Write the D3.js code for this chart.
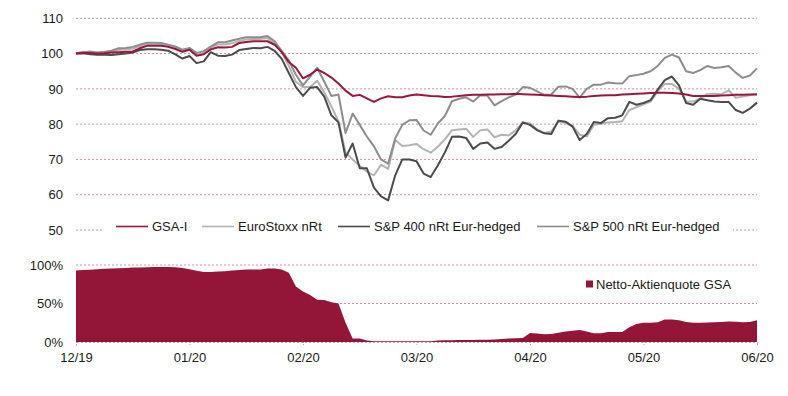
<!DOCTYPE html>
<html><head><meta charset="utf-8">
<script src="https://cdn.jsdelivr.net/npm/d3@7/dist/d3.min.js"></script>
<style>body{margin:0;background:#fff;} text{font-family:"Liberation Sans",Arial,Helvetica,sans-serif;fill:#1a1a1a;}</style>
</head><body><svg id="c" width="788" height="396"></svg>
<script>
// ---------- data ----------
const monthLabels = ["12/19","01/20","02/20","03/20","04/20","05/20","06/20"];
const samplesPerMonth = 16;
const indexTicks = [50,60,70,80,90,100,110];
const quotaTicks = [0,50,100];
const seriesNames = ["GSA-I","EuroStoxx nRt","S&P 400 nRt Eur-hedged","S&P 500 nRt Eur-hedged"];
const quotaName = "Netto-Aktienquote GSA";

const gsaValues = [100,100.2,100.2,100,100.1,100.3,100.4,100.5,100.6,101.5,102.2,102.2,102.2,101.9,101.3,100.5,
101.1,99.4,99.8,101.2,101.8,101.7,101.9,103,103.3,103.5,103.5,103.5,102.5,100.4,97.6,96,
93,94,95.5,94.5,93.2,91.5,89.5,88,88.3,87.3,86.3,87.3,87.9,87.6,87.6,88.1,
88.4,88.2,88,87.9,87.7,87.8,88,88.2,88.3,88.3,88.4,88.4,88.5,88.5,88.6,88.5,
88.4,88.3,88.2,88.1,88,87.9,87.8,87.7,87.8,88,88.1,88.2,88.2,88.4,88.5,88.6,
88.7,88.8,88.9,88.9,88.8,88.7,88.4,88,88,88,88,88.1,88.2,88.3,88.3,88.4,88.4];

const euroStoxxValues = [100,100.5,100.3,100.1,100.2,100.6,101,101.2,101.4,102,102.6,102.6,102.5,102.2,101.6,100.8,
101.4,99.6,100.2,101.7,102.6,102.6,102.9,103.6,104,104.1,104.1,104.4,103,100.5,96.5,92,
90.5,90.5,92.3,89,85,80.8,72,70,68.2,66.5,65.5,68.5,67.3,75.5,73.8,74,
74.4,72.9,71.9,73.6,75.7,78.3,78.5,78.7,76.4,78.3,78.5,76.3,77,76.8,78.3,80.5,
80.2,78.5,77.5,77.9,80.7,80.4,79.5,77,76.5,79.8,80.1,80.5,80.6,80.8,84,84.8,
85.6,86.4,89.3,91.4,91.4,90,86.5,86.4,87.3,88.5,88.6,88.5,89.6,87.5,87.8,88.2,88.7];

const sp400Values = [100,100.1,99.8,99.7,99.7,99.6,99.8,100,100.3,101,101.2,101.2,101.1,100.8,99.8,98.6,
99.3,97.3,97.8,100.4,99.4,99.3,99.7,101,101.3,101.6,101.5,101.9,100.8,98.5,94.5,90.5,
88,90.3,90.5,87.8,82.5,80.5,70.5,74.5,67.5,67.5,62,59.5,58.4,65.5,70,70,
69.5,66,65,68.3,72,76.4,76.5,76.1,73,74.5,74.8,73,73.5,75.3,77.3,80.5,
79.8,78.3,77.4,77.2,81,80.7,79.3,75.5,77.2,80.6,80.3,81.7,81.8,82.5,86.3,85.5,
86,86.8,89.8,92.5,93.5,91,86,85.5,87.2,86.8,86.4,86.3,86.3,84,83.2,84.4,86.1];

const sp500Values = [100,100.4,100.6,100.3,100.5,100.8,101.5,101.6,101.9,102.5,103.1,103.1,103,102.5,102,101.1,
101.6,100.2,100.7,102,103.2,103.2,103.7,104.2,104.6,104.6,104.6,105,103.5,100.8,98,94,
91,93.5,96,92,88,88.4,77.5,83,79.8,76.5,73.7,70,68.8,76,79.8,81.1,
81.2,78.2,77,80.2,82.3,86.5,87.2,87.6,86.4,88.2,88.1,85.3,86.5,87.6,88.4,90.5,
90.3,89.3,88.3,88.4,90.6,90.7,90,87.5,90,91.2,91.2,91.8,91.6,91.5,93.6,93.9,
94.3,95,96.5,98.8,99.7,98.9,95,94.5,95.3,96.5,95.9,96.1,96.5,94.6,93.1,93.8,95.8];

const equityQuotaValues = [93,93.5,93.9,94.5,95.2,95.5,95.8,96.2,96.7,96.9,97.1,97.3,97.4,97.4,97,96.2,
94.5,92.5,90.8,91,91.5,92,92.8,93.5,94,94.1,94.3,95.5,95.5,94.2,90,72,
65.5,61.1,55,54.6,51.5,50,25,4.4,4.4,2,0.9,0.9,0.9,0.9,0.9,0.9,
0.9,0.9,1,1.8,2.2,2.4,2.5,2.5,2.6,2.8,3,3.4,4,4.5,5,5.2,
11.8,11.2,10,10.3,12,13.6,14.7,15.5,13.5,11.5,11.3,13.1,13.1,13.1,19,23.5,
25,25,25.5,29.3,29.3,28.4,26,25,25,25.2,25.5,26,26.6,26.2,25.8,26,28.4];

// ---------- drawing ----------
const svg = d3.select("#c");
const left = 76, right = 757;
const x = d3.scaleLinear().domain([0, monthLabels.length - 1]).range([left, right]);
const yTop = d3.scaleLinear().domain([50, 110]).range([230, 18.3]);
const yBot = d3.scaleLinear().domain([0, 100]).range([342, 265]);
const t = i => i / samplesPerMonth;

const gridColor = "#d28fa3";
const crimson = "#99173f";
const areaColor = "#931638";
const colors = [crimson, "#b3b3b3", "#4b4b4b", "#8d8d8d"];

// top gridlines
svg.append("g").selectAll("line").data(indexTicks).join("line")
  .attr("x1", left).attr("x2", right)
  .attr("y1", d => yTop(d)).attr("y2", d => yTop(d))
  .attr("stroke", gridColor).attr("stroke-width", 1).attr("stroke-dasharray", "2,2");
svg.append("g").selectAll("text").data(indexTicks).join("text")
  .attr("x", 63).attr("y", d => yTop(d)).attr("dy", "0.36em")
  .attr("text-anchor", "end").attr("font-size", 13).text(d => d);

// bottom gridlines (50, 100)
svg.append("g").selectAll("line").data(quotaTicks.filter(d => d > 0)).join("line")
  .attr("x1", left).attr("x2", right)
  .attr("y1", d => yBot(d)).attr("y2", d => yBot(d))
  .attr("stroke", gridColor).attr("stroke-width", 1).attr("stroke-dasharray", "2,2");
svg.append("g").selectAll("text").data(quotaTicks).join("text")
  .attr("x", 63).attr("y", d => yBot(d)).attr("dy", "0.36em")
  .attr("text-anchor", "end").attr("font-size", 13).text(d => d + "%");

// area
const area = d3.area().x((d, i) => x(t(i))).y0(yBot(0)).y1(d => yBot(d));
svg.append("path").datum(equityQuotaValues).attr("d", area).attr("fill", areaColor);

// x axis
const xAxis = d3.axisBottom(x).tickValues(d3.range(monthLabels.length))
  .tickFormat(i => monthLabels[i]).tickSize(4).tickPadding(7);
const gx = svg.append("g").attr("transform", `translate(0,${yBot(0)})`).call(xAxis);
gx.select(".domain").attr("stroke", "#c9a0ad").attr("stroke-dasharray", "2,2");
gx.selectAll(".tick line").attr("stroke", "#c9a0ad").attr("stroke-dasharray", "1,1");
gx.selectAll(".tick text").attr("font-size", 13).attr("fill", "#1a1a1a")
  .attr("font-family", '"Liberation Sans",Arial,sans-serif');

// legend 1 (over the 50 gridline)
svg.append("rect").attr("x", 103).attr("y", 219).attr("width", 630).attr("height", 17).attr("fill", "#fff");
const legendX = [116, 202, 338, 537];
const lg = svg.append("g").selectAll("g").data(seriesNames).join("g")
  .attr("transform", (d, i) => `translate(${legendX[i]},226.5)`);
lg.append("line").attr("x1", 0).attr("x2", 32).attr("y1", 0).attr("y2", 0)
  .attr("stroke", (d, i) => colors[i]).attr("stroke-width", 1.6);
lg.append("text").attr("x", 36).attr("dy", "0.36em").attr("font-size", 13).text(d => d);

// legend 2
svg.append("rect").attr("x", 586).attr("y", 280.5).attr("width", 7).attr("height", 7).attr("fill", areaColor);
svg.append("text").attr("x", 596).attr("y", 284).attr("dy", "0.36em").attr("font-size", 13).text(quotaName);

// lines
const line = d3.line().x((d, i) => x(t(i))).y(d => yTop(d));
const seriesValues = [gsaValues, euroStoxxValues, sp400Values, sp500Values];
[1, 3, 2, 0].forEach(k => {
  svg.append("path").datum(seriesValues[k]).attr("d", line)
    .attr("fill", "none").attr("stroke", colors[k]).attr("stroke-width", 2)
    .attr("stroke-linejoin", "round");
});
</script>
</body></html>
